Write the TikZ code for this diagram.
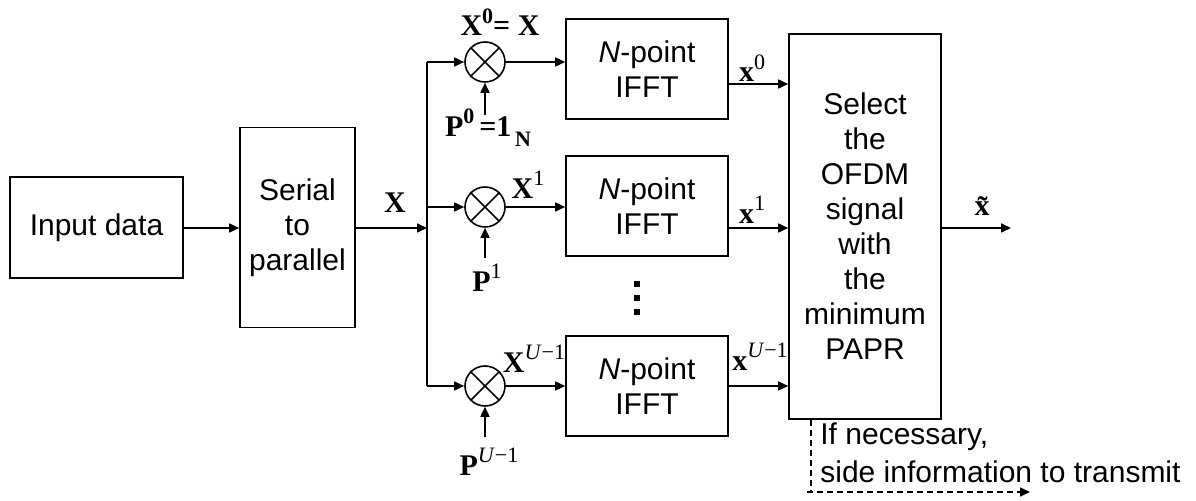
\documentclass[tikz,border=0pt]{standalone}
\usepackage{fontspec}
\setmainfont{Liberation Sans}
\newfontfamily\lbl{Liberation Serif}
\usetikzlibrary{arrows.meta}
\newcommand{\lsup}[1]{\raisebox{0.42em}{\fontsize{11}{11}\selectfont #1}}
\newcommand{\umo}{\mdseries\itshape U\/\upshape −1}
\tikzset{
  x=0.5pt, y=-0.5pt,
  every node/.style={font=\fontsize{15}{17.5}\selectfont},
  blk/.style={draw, line width=0.8pt, inner sep=0pt, align=center},
  mul/.style={draw, circle, line width=0.8pt, minimum size=20pt, inner sep=0pt},
  conn/.style={line width=0.8pt, -{Triangle[length=5pt,width=4.5pt]}},
  wire/.style={line width=0.8pt},
  lab/.style={font=\fontsize{15}{15}\selectfont\lbl\bfseries, inner sep=0pt},
}
\begin{document}
\begin{tikzpicture}
\useasboundingbox (0,0) rectangle (1196,501);
% blocks
\node[blk, minimum width=86.5pt, minimum height=50.5pt] (in) at (96.5,227.5) {Input data};
\node[blk, minimum width=57.5pt, minimum height=100pt] (sp) at (297.5,227.5) {Serial\\to\\parallel};
\node[blk, minimum width=81pt, minimum height=50pt] (f0) at (647,69) {\textit{N}-point\\IFFT};
\node[blk, minimum width=81pt, minimum height=50pt] (f1) at (647,206) {\textit{N}-point\\IFFT};
\node[blk, minimum width=81pt, minimum height=50pt] (f2) at (647,386) {\textit{N}-point\\IFFT};
\node[blk, minimum width=76pt, minimum height=192.5pt] (sel) at (865,226.5) {Select\\the\\OFDM\\signal\\with\\the\\minimum\\PAPR};
% multipliers
\foreach \n/\y in {m0/62, m1/207, m2/386}{
  \node[mul] (\n) at (485,\y) {};
  \draw[wire] (\n.45) -- (\n.225) (\n.135) -- (\n.315);
}
% bus
\coordinate (bt) at (427,62);
\coordinate (bm) at (427,207);
\coordinate (bx) at (427,228);
\coordinate (bb) at (427,386);
\draw[conn] (in.east |- 0,228) -- (sp.west |- 0,228);
\draw[conn] (sp.east |- bx) -- (bx);
\draw[wire] (bt) -- (bb);
\draw[conn] (bt) -- (m0);
\draw[conn] (bm) -- (m1);
\draw[conn] (bb) -- (m2);
% P inputs
\coordinate (p0) at (485,115);
\coordinate (p1) at (485,258);
\coordinate (p2) at (485,437);
\draw[conn] (p0) -- (m0);
\draw[conn] (p1) -- (m1);
\draw[conn] (p2) -- (m2);
% multiplier to IFFT
\draw[conn] (m0) -- (f0.west |- m0);
\draw[conn] (m1) -- (f1.west |- m1);
\draw[conn] (m2) -- (f2.west |- m2);
% IFFT to select
\coordinate (o0) at (728,84);
\coordinate (o1) at (728,228);
\coordinate (o2) at (728,386);
\draw[conn] (o0) -- (sel.west |- o0);
\draw[conn] (o1) -- (sel.west |- o1);
\draw[conn] (o2) -- (sel.west |- o2);
% output
\coordinate (out) at (1011,228);
\draw[conn] (sel.east |- out) -- (out);
% dashed side info
\coordinate (d1) at (811,492);
\coordinate (d2) at (1030,492);
\draw[wire, dashed, dash pattern=on 3pt off 2pt] (sel.south -| d1) -- (d1);
\draw[conn, dashed, dash pattern=on 3pt off 2pt] (807,492) -- (d2);
\node[anchor=west, inner sep=0pt] (t1) at (820,437) {If necessary,};
\node[anchor=west, inner sep=0pt] (t2) at (820,472) {side information to transmit};
% dots
\foreach \y [count=\i] in {284,298,312}{
  \node[fill=black, minimum size=2.6pt, inner sep=0pt] (dot\i) at (637,\y) {};
}
% labels
\node[lab] (lX) at (395,203) {X};
\node[lab] (lX0) at (500,22) {X\lsup{\bfseries 0}= X};
\node[lab] (lP0) at (488,128) {P\lsup{\bfseries 0}\,=1\raisebox{-0.35em}{\fontsize{11}{11}\selectfont\,N}};
\node[lab] (lX1) at (528,185) {X\lsup{\mdseries 1}};
\node[lab] (lP1) at (487,278) {P\lsup{\mdseries 1}};
\node[lab] (lX2) at (534,359) {X\lsup{\umo}};
\node[lab] (lP2) at (489,462) {P\lsup{\umo}};
\node[lab] (lx0) at (752,68) {x\lsup{\mdseries 0}};
\node[lab] (lx1) at (752,210) {x\lsup{\mdseries 1}};
\node[lab] (lx2) at (760,357) {x\lsup{\umo}};
\node[lab] (lxt) at (982,206) {\~{x}};
\end{tikzpicture}
\end{document}
